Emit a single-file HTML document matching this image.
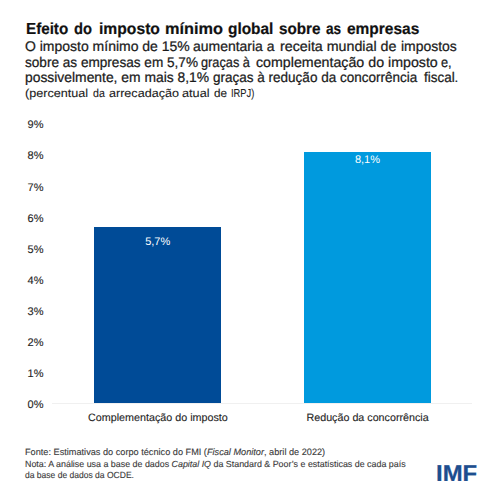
<!DOCTYPE html>
<html><head><meta charset="utf-8">
<style>
html,body{margin:0;padding:0;width:500px;height:500px;background:#fff;overflow:hidden}
body{position:relative;font-family:"Liberation Sans",sans-serif;color:#1a1a1a}
.t{position:absolute;white-space:pre;line-height:1;text-rendering:geometricPrecision;-webkit-text-stroke:0.24px currentColor}
.bar{position:absolute}
i{font-style:italic}
</style></head><body>
<div class="t" style="left:25px;top:22.1px;font-size:16px;font-weight:bold;color:#111;-webkit-text-stroke:0.2px #111"><span style="position:absolute;left:0.75px;transform:scaleX(0.9489);transform-origin:0 0">Efeito</span><span style="position:absolute;left:49.35px;transform:scaleX(0.9200);transform-origin:0 0">do</span><span style="position:absolute;left:73.55px;transform:scaleX(0.9790);transform-origin:0 0">imposto</span><span style="position:absolute;left:139.75px;transform:scaleX(1.0193);transform-origin:0 0">mínimo</span><span style="position:absolute;left:202.95px;transform:scaleX(0.9638);transform-origin:0 0">global</span><span style="position:absolute;left:254.15px;transform:scaleX(0.9523);transform-origin:0 0">sobre</span><span style="position:absolute;left:300.75px;transform:scaleX(0.8500);transform-origin:0 0">as</span><span style="position:absolute;left:321.95px;transform:scaleX(0.9667);transform-origin:0 0">empresas</span></div>
<div class="t" style="left:25px;top:39.15px;font-size:14px"><span style="position:absolute;left:-0.20px;transform:scaleX(0.9988);transform-origin:0 0">O imposto mínimo de 15%</span><span style="position:absolute;left:168.20px;transform:scaleX(0.9976);transform-origin:0 0">aumentaria a</span><span style="position:absolute;left:255.20px;transform:scaleX(1.0175);transform-origin:0 0">receita mundial de</span><span style="position:absolute;left:376.00px;transform:scaleX(0.9964);transform-origin:0 0">impostos</span></div>
<div class="t" style="left:25px;top:55.35px;font-size:14px"><span style="position:absolute;left:0.20px;transform:scaleX(0.9708);transform-origin:0 0">sobre as empresas em 5,7%</span><span style="position:absolute;left:176.20px;transform:scaleX(0.9111);transform-origin:0 0">graças à</span><span style="position:absolute;left:231.40px;transform:scaleX(1.0156);transform-origin:0 0">complementação do imposto</span><span style="position:absolute;left:416.20px;transform:scaleX(0.9091);transform-origin:0 0">e,</span></div>
<div class="t" style="left:25px;top:70.45px;font-size:14px"><span style="position:absolute;left:0.20px;transform:scaleX(0.9903);transform-origin:0 0">possivelmente, em mais 8,1%</span><span style="position:absolute;left:188.00px;transform:scaleX(0.9651);transform-origin:0 0">graças à redução da concorrência</span><span style="position:absolute;left:399.20px;transform:scaleX(0.9600);transform-origin:0 0">fiscal.</span></div>
<div class="t" style="left:25px;top:88.9px;font-size:11.5px;color:#222;-webkit-text-stroke:0.1px #222"><span style="position:absolute;left:0.20px;transform:scaleX(1.0966);transform-origin:0 0">(percentual</span><span style="position:absolute;left:68.20px;transform:scaleX(0.9231);transform-origin:0 0">da</span><span style="position:absolute;left:84.20px;transform:scaleX(1.0937);transform-origin:0 0">arrecadação</span><span style="position:absolute;left:157.40px;transform:scaleX(1.1040);transform-origin:0 0">atual</span><span style="position:absolute;left:188.60px;transform:scaleX(1.0154);transform-origin:0 0">de</span><span style="position:absolute;left:205.80px;transform:scaleX(0.8138);transform-origin:0 0">IRPJ)</span></div>
<div class="t" style="left:27.6px;top:120.35px;font-size:11px;color:#262626;-webkit-text-stroke:0.12px #262626">9%</div>
<div class="t" style="left:27.6px;top:151.46px;font-size:11px;color:#262626;-webkit-text-stroke:0.12px #262626">8%</div>
<div class="t" style="left:27.6px;top:182.57px;font-size:11px;color:#262626;-webkit-text-stroke:0.12px #262626">7%</div>
<div class="t" style="left:27.6px;top:213.68px;font-size:11px;color:#262626;-webkit-text-stroke:0.12px #262626">6%</div>
<div class="t" style="left:27.6px;top:244.79px;font-size:11px;color:#262626;-webkit-text-stroke:0.12px #262626">5%</div>
<div class="t" style="left:27.6px;top:275.90px;font-size:11px;color:#262626;-webkit-text-stroke:0.12px #262626">4%</div>
<div class="t" style="left:27.6px;top:307.01px;font-size:11px;color:#262626;-webkit-text-stroke:0.12px #262626">3%</div>
<div class="t" style="left:27.6px;top:338.12px;font-size:11px;color:#262626;-webkit-text-stroke:0.12px #262626">2%</div>
<div class="t" style="left:27.6px;top:369.23px;font-size:11px;color:#262626;-webkit-text-stroke:0.12px #262626">1%</div>
<div class="t" style="left:27.6px;top:400.34px;font-size:11px;color:#262626;-webkit-text-stroke:0.12px #262626">0%</div>

<div class="bar" style="left:52px;top:403px;width:420px;height:1px;background:#f0f0f0"></div>
<div class="bar" style="left:94px;top:227px;width:127px;height:176px;background:#004b97"></div>
<div class="bar" style="left:304px;top:151.7px;width:127.3px;height:251.3px;background:#009ade"></div>

<div class="t" style="left:145.2px;top:236.85px;font-size:11px;color:#fff;-webkit-text-stroke:0">5,7%</div>
<div class="t" style="left:354.9px;top:155.45px;font-size:11px;color:#fff;-webkit-text-stroke:0">8,1%</div>

<div class="t" style="left:88px;top:413px;font-size:10.76px;color:#262626;-webkit-text-stroke:0.12px #262626">Complementação do imposto</div>
<div class="t" style="left:306.5px;top:413px;font-size:10.72px;color:#262626;-webkit-text-stroke:0.12px #262626">Redução da concorrência</div>

<div class="t" style="left:25px;top:448.4px;font-size:9.2px;transform:scaleX(0.998);transform-origin:0 0;color:#3a3a3a;-webkit-text-stroke:0.12px #3a3a3a">Fonte: Estimativas do corpo técnico do FMI (<i>Fiscal Monitor</i>, abril de 2022)</div>
<div class="t" style="left:25px;top:459.8px;font-size:8.9px;color:#3a3a3a;-webkit-text-stroke:0.12px #3a3a3a">Nota: A análise usa a base de dados <i>Capital IQ</i> da Standard &amp; Poor’s e estatísticas de cada país</div>
<div class="t" style="left:25px;top:471.2px;font-size:8.9px;transform:scaleX(0.96);transform-origin:0 0;color:#3a3a3a;-webkit-text-stroke:0.12px #3a3a3a">da base de dados da OCDE.</div>

<div class="t" style="left:435.6px;top:462.4px;font-size:23px;font-weight:bold;color:#1d4e8f;transform:scaleX(1.04);transform-origin:0 0">IMF</div>
</body></html>
